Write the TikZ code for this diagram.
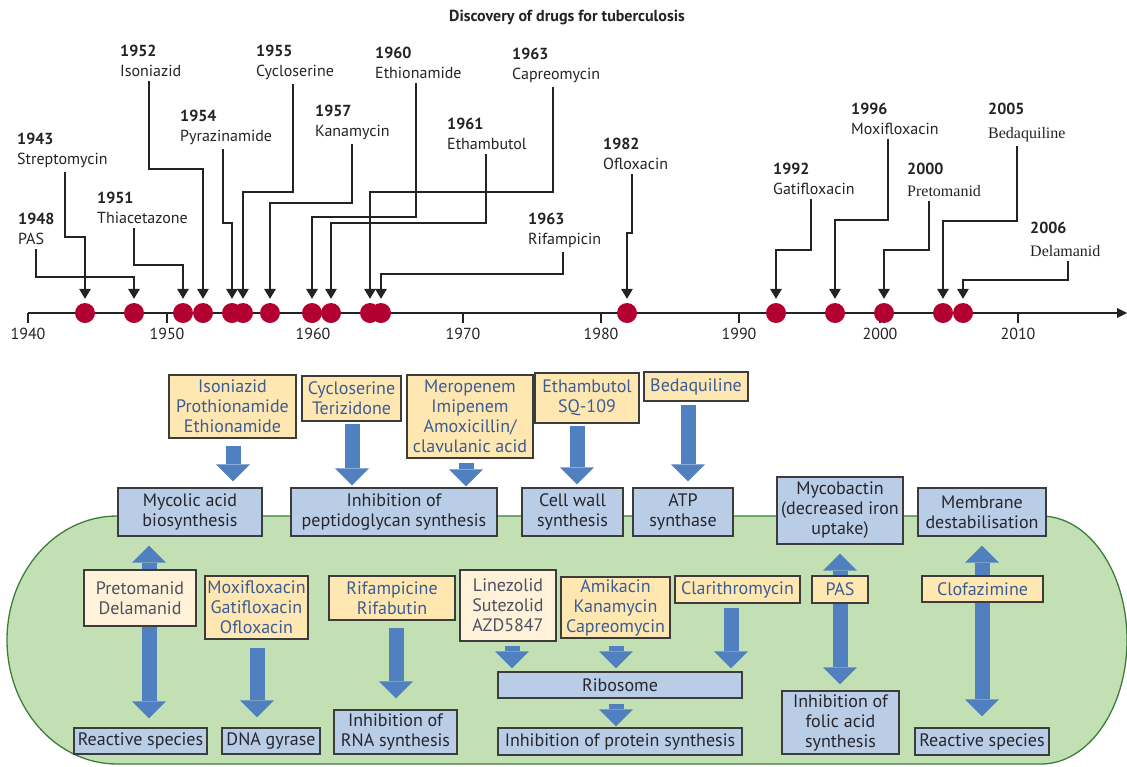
\documentclass[tikz,border=0pt]{standalone}
\usepackage{fontspec}
\setmainfont{PT Sans}
\newfontfamily\timesfont{Liberation Serif}
\usetikzlibrary{arrows.meta,calc}

\definecolor{dotred}{RGB}{178,0,48}
\definecolor{leadgray}{RGB}{35,35,35}
\definecolor{drugfill}{RGB}{255,231,178}
\definecolor{druglight}{RGB}{255,242,216}
\definecolor{drugtext}{RGB}{60,92,148}
\definecolor{paletext}{RGB}{78,80,96}
\definecolor{targfill}{RGB}{185,205,230}
\definecolor{targtext}{RGB}{38,38,44}
\definecolor{boxline}{RGB}{60,60,60}
\definecolor{arrowblue}{RGB}{80,128,192}
\definecolor{cellfill}{RGB}{195,224,180}
\definecolor{cellline}{RGB}{60,125,60}

\pgfdeclarelayer{cell}
\pgfdeclarelayer{flow}
\pgfsetlayers{cell,flow,main}

\newcommand{\tnr}{\timesfont\fontsize{16}{20}\selectfont}
% leader from a year label down to its dot
\newcommand{\tbleader}[4]{\draw[lead] (#2,0 |- #1.south) |- (#4 |- 0,#3) -- (#4.north);}

\begin{document}
\begin{tikzpicture}[x=1pt,y=-1pt,
    year/.style={anchor=north west, inner sep=0pt, align=left, text=leadgray,
      font=\fontsize{16}{20}\selectfont},
    ticklabel/.style={inner sep=0pt, text=leadgray, font=\fontsize{16}{18}\selectfont},
    axisline/.style={draw=leadgray, line width=1.2pt},
    lead/.style={draw=leadgray, line width=1.2pt, shorten <=4pt, shorten >=4pt,
      >={Triangle[width=12pt,length=10pt,line width=0pt]}, ->},
    dot/.style={circle, fill=dotred, minimum size=20pt, inner sep=0pt},
    box/.style 2 args={draw=boxline, line width=1.1pt, inner sep=0pt, align=center,
      font=\fontsize{18}{20}\selectfont, minimum width=#1pt, minimum height=#2pt},
    drug/.style 2 args={box={#1}{#2}, fill=drugfill, text=drugtext},
    paledrug/.style 2 args={box={#1}{#2}, fill=druglight, text=paletext},
    target/.style 2 args={box={#1}{#2}, fill=targfill, text=targtext},
    flow/.style={draw=arrowblue, line width=15pt,
      >={Triangle[width=34pt,length=17pt,line width=0pt]}, ->},
    twoway/.style={flow, <->}]
  \useasboundingbox (0,0) rectangle (1127,766);

  \node[font=\bfseries\fontsize{16}{18}\selectfont, text=leadgray] (title) at (567,18)
    {Discovery of drugs for tuberculosis};

  % time axis
  \coordinate (t0) at (28,313);
  \coordinate (tend) at (1127,313);
  \draw[axisline, -{Triangle[width=10pt,length=10pt,line width=0pt]}] (t0) -- (tend);
  \foreach \x/\yr in {28/1940,167/1950,313/1960,463/1970,601/1980,739/1990,880/2000,1018/2010}{
    \draw[axisline] (\x,313) -- (\x,323);
    \node[ticklabel] (y\yr) at (\x,334) {\yr};
  }

  % discoveries
  \node[year] (s43) at (17,133) {\textbf{1943}\\Streptomycin};
  \node[year] (p48) at (18,213) {\textbf{1948}\\PAS};
  \node[year] (t51) at (97,192) {\textbf{1951}\\Thiacetazone};
  \node[year] (i52) at (120,45) {\textbf{1952}\\Isoniazid};
  \node[year] (z54) at (180,110) {\textbf{1954}\\Pyrazinamide};
  \node[year] (c55) at (256,45) {\textbf{1955}\\Cycloserine};
  \node[year] (k57) at (315,105) {\textbf{1957}\\Kanamycin};
  \node[year] (e60) at (375,47) {\textbf{1960}\\Ethionamide};
  \node[year] (b61) at (447,118) {\textbf{1961}\\Ethambutol};
  \node[year] (c63) at (512,48) {\textbf{1963}\\Capreomycin};
  \node[year] (r63) at (528,213) {\textbf{1963}\\Rifampicin};
  \node[year] (o82) at (603,138) {\textbf{1982}\\Ofloxacin};
  \node[year] (g92) at (773,163) {\textbf{1992}\\Gatifloxacin};
  \node[year] (m96) at (851,103) {\textbf{1996}\\Moxifloxacin};
  \node[year] (p00) at (907,163) {\textbf{2000}\\[2pt]\tnr Pretomanid};
  \node[year] (b05) at (988,103) {\textbf{2005}\\[4pt]\tnr Bedaquiline};
  \node[year] (d06) at (1030,222) {\textbf{2006}\\[3pt]\tnr Delamanid};

  \foreach \x/\n in {85/43,134/48,183/51,203/52,232/54,243/55,270/57,312/60,
      331/61,370/63c,381/63r,627/82,776/92,835/96,884/00,943/05,963/06}
    \node[dot] (dot\n) at (\x,313) {};

  \tbleader{s43}{65}{237}{dot43}
  \tbleader{p48}{36}{277}{dot48}
  \tbleader{t51}{134}{265}{dot51}
  \tbleader{i52}{149}{169}{dot52}
  \tbleader{z54}{223}{223}{dot54}
  \tbleader{c55}{293}{192}{dot55}
  \tbleader{k57}{352}{203}{dot57}
  \tbleader{e60}{416}{217}{dot60}
  \tbleader{b61}{486}{223}{dot61}
  \tbleader{c63}{553}{192}{dot63c}
  \tbleader{r63}{563}{274}{dot63r}
  \tbleader{o82}{632}{233}{dot82}
  \tbleader{g92}{811}{250}{dot92}
  \tbleader{m96}{888}{220}{dot96}
  \tbleader{p00}{929}{250}{dot00}
  \tbleader{b05}{1017}{221}{dot05}
  \tbleader{d06}{1068}{280}{dot06}

  % the cell
  \begin{pgfonlayer}{cell}
    \draw[fill=cellfill, draw=cellline, line width=1.3pt]
      (117,516) -- (1041,516) arc[start angle=-90, end angle=90, x radius=86, y radius=124]
      -- (117,764) arc[start angle=90, end angle=270, x radius=110, y radius=124] -- cycle;
  \end{pgfonlayer}

  % drugs outside
  \node[drug={127}{63}] (iso) at (232.5,406.5) {Isoniazid\\Prothionamide\\Ethionamide};
  \node[drug={99}{45}] (cyc) at (351.5,398.5) {Cycloserine\\Terizidone};
  \node[drug={126}{83}] (mero) at (470,416.5) {Meropenem\\Imipenem\\Amoxicillin/\\clavulanic acid};
  \node[drug={104}{50}] (eth) at (587,398) {Ethambutol\\SQ-109};
  \node[drug={104}{29}] (bdq) at (696,386.5) {Bedaquiline};

  % targets on the wall
  \node[target={144}{48}] (myc) at (190,512) {Mycolic acid\\biosynthesis};
  \node[target={206}{48}] (pep) at (394,512) {Inhibition of\\peptidoglycan synthesis};
  \node[target={101}{48}] (cw) at (572.5,512) {Cell wall\\synthesis};
  \node[target={100}{48}] (atp) at (683,512) {ATP\\synthase};
  \node[target={126}{67}] (mcb) at (840,510.5) {Mycobactin\\(decreased iron\\uptake)};
  \node[target={128}{48}] (mem) at (982,512) {Membrane\\destabilisation};

  % drugs inside
  \node[paledrug={112}{56}] (pd) at (140,598) {Pretomanid\\Delamanid};
  \node[drug={103}{63}] (mx) at (256.5,607.5) {Moxifloxacin\\Gatifloxacin\\Ofloxacin};
  \node[drug={126}{44}] (rf) at (392,598) {Rifampicine\\Rifabutin};
  \node[paledrug={96}{71}] (lz) at (508,605.5) {Linezolid\\Sutezolid\\AZD5847};
  \node[drug={109}{61}] (am) at (615.5,607.5) {Amikacin\\Kanamycin\\Capreomycin};
  \node[drug={125}{27}] (cl) at (737.5,589.5) {Clarithromycin};
  \node[drug={56}{27}] (pas) at (840,589.5) {PAS};
  \node[drug={121}{26}] (cf) at (982.5,589) {Clofazimine};

  % targets inside
  \node[target={133}{26}] (rs1) at (140.5,741) {Reactive species};
  \node[target={98}{26}] (dna) at (271,741) {DNA gyrase};
  \node[target={123}{44}] (rna) at (395.5,732) {Inhibition of\\RNA synthesis};
  \node[target={244}{26}] (rib) at (620,685) {Ribosome};
  \node[target={244}{27}] (prot) at (620,741.5) {Inhibition of protein synthesis};
  \node[target={117}{63}] (fol) at (840.5,722.5) {Inhibition of\\folic acid\\synthesis};
  \node[target={134}{27}] (rs2) at (982,741.5) {Reactive species};

  \begin{pgfonlayer}{flow}
    \foreach \x/\a/\b/\s/\e in {233/iso/myc/7/6, 352/cyc/pep/2/2, 466/mero/pep/4/1,
        577/eth/cw/2/3, 688/bdq/atp/3/6, 257/mx/dna/8/10, 396/rf/rna/7/11,
        512/lz/rib/4/3, 616/am/rib/7/3, 731/cl/rib/4/3, 616/rib/prot/5/1}
      \draw[flow, shorten <=\s pt, shorten >=\e pt] (\x,0 |- \a.south) -- (\x,0 |- \b.north);
    \foreach \x/\a/\b/\s/\e in {149/myc/rs1/9/9, 840/mcb/fol/9/6, 982/mem/rs2/9/11}
      \draw[twoway, shorten <=\s pt, shorten >=\e pt] (\x,0 |- \a.south) -- (\x,0 |- \b.north);
  \end{pgfonlayer}
\end{tikzpicture}
\end{document}
